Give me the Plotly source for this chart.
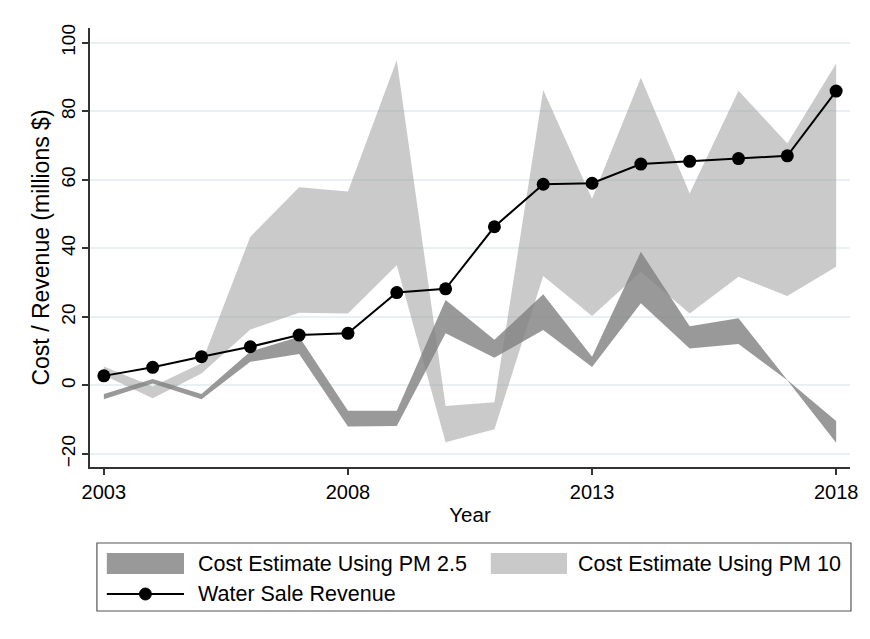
import plotly.graph_objects as go

# Annual series, 2003-2018 (millions of dollars)
years = list(range(2003, 2019))
revenue = [2.8, 5.3, 8.4, 11.3, 14.7, 15.2, 27.1, 28.2, 46.3, 58.7, 59.0, 64.6, 65.4, 66.2, 67.0, 85.9]
pm25_low = [-4.0, 0.6, -4.0, 6.9, 9.2, -12.0, -11.8, 15.2, 8.1, 16.2, 5.4, 24.0, 10.8, 12.1, 1.5, -16.7]
pm25_high = [-2.5, 1.9, -2.5, 9.9, 14.2, -7.4, -7.4, 24.9, 13.3, 26.6, 8.4, 39.0, 17.3, 19.6, 1.6, -10.4]
pm10_low = [3.0, -3.7, 3.5, 16.3, 21.2, 21.0, 35.1, -16.6, -12.8, 31.9, 20.3, 33.2, 21.0, 31.7, 26.1, 34.6]
pm10_high = [5.5, -0.3, 6.5, 43.4, 57.8, 56.6, 94.9, -6.0, -4.9, 86.2, 54.5, 89.8, 56.0, 86.0, 70.6, 93.9]

x_ticks = [2003, 2008, 2013, 2018]
y_ticks = [-20, 0, 20, 40, 60, 80, 100]

legend_labels = ["Cost Estimate Using PM 2.5", "Cost Estimate Using PM 10", "Water Sale Revenue"]

FONT = "Liberation Sans, Arial, Helvetica, sans-serif"
LIGHT_FILL = "rgba(150,150,150,0.5)"
DARK_FILL = "rgba(128,128,128,0.8)"

W, H = 870, 639
ML, MR, MT, MB = 90, 12, 28, 172

fig = go.Figure()

# PM 10 band
fig.add_trace(go.Scatter(x=years, y=pm10_low, mode="lines", line=dict(width=0),
                         hoverinfo="skip", showlegend=False))
fig.add_trace(go.Scatter(x=years, y=pm10_high, mode="lines", line=dict(width=0),
                         fill="tonexty", fillcolor=LIGHT_FILL, showlegend=False))
# PM 2.5 band
fig.add_trace(go.Scatter(x=years, y=pm25_low, mode="lines", line=dict(width=0),
                         hoverinfo="skip", showlegend=False))
fig.add_trace(go.Scatter(x=years, y=pm25_high, mode="lines", line=dict(width=0),
                         fill="tonexty", fillcolor=DARK_FILL, showlegend=False))
# Revenue line
fig.add_trace(go.Scatter(x=years, y=revenue, mode="lines+markers",
                         line=dict(color="black", width=2),
                         marker=dict(color="black", size=13),
                         showlegend=False))

# Hand-built legend box underneath the plot (pixel -> paper helpers)
pw = W - ML - MR
ph = H - MT - MB


def px(xpix):
    return (xpix - ML) / pw


def py(ypix):
    return (H - MB - ypix) / ph


shapes = []
annotations = []
shapes.append(dict(type="rect", xref="paper", yref="paper",
                   x0=px(97), x1=px(859), y0=py(611), y1=py(543),
                   line=dict(color="#555555", width=1.2), fillcolor="white", layer="above"))
shapes.append(dict(type="rect", xref="paper", yref="paper",
                   x0=px(107), x1=px(185), y0=py(574), y1=py(553),
                   line=dict(width=0), fillcolor="#999999", layer="above"))
shapes.append(dict(type="rect", xref="paper", yref="paper",
                   x0=px(495), x1=px(572), y0=py(574), y1=py(553),
                   line=dict(width=0), fillcolor="#c9c9c9", layer="above"))
shapes.append(dict(type="line", xref="paper", yref="paper",
                   x0=px(107), x1=px(185), y0=py(594), y1=py(594),
                   line=dict(color="black", width=2), layer="above"))
shapes.append(dict(type="circle", xref="paper", yref="paper",
                   x0=px(140), x1=px(152), y0=py(600), y1=py(588),
                   line=dict(color="black", width=1), fillcolor="black", layer="above"))

for label, (lx, ly) in zip(legend_labels, [(197, 564), (581, 564), (197, 594)]):
    annotations.append(dict(text=label, xref="paper", yref="paper",
                            x=px(lx), y=py(ly), xanchor="left", yanchor="middle",
                            showarrow=False, font=dict(family=FONT, size=21.5, color="black")))

fig.update_layout(
    width=W, height=H,
    margin=dict(l=ML, r=MR, t=MT, b=MB),
    paper_bgcolor="white", plot_bgcolor="white",
    font=dict(family=FONT, color="black"),
    shapes=shapes, annotations=annotations,
    xaxis=dict(range=[2002.716, 2018.284], tickvals=x_ticks,
               ticks="outside", ticklen=6, tickwidth=1.5, tickcolor="#333333",
               showline=True, linecolor="#333333", linewidth=1.5,
               showgrid=False, zeroline=False,
               tickfont=dict(size=20), title=dict(text="Year", font=dict(size=20.5), standoff=6)),
    yaxis=dict(range=[-23.79, 104.29], tickvals=y_ticks, tickangle=-90,
               ticks="outside", ticklen=6, tickwidth=1.5, tickcolor="#333333",
               showline=True, linecolor="#333333", linewidth=1.5,
               showgrid=True, gridcolor="#e8f0f1", gridwidth=1.5, zeroline=False,
               tickfont=dict(size=19),
               title=dict(text="Cost / Revenue (millions $)", font=dict(size=23), standoff=2)),
)

fig.write_html("out.html")
